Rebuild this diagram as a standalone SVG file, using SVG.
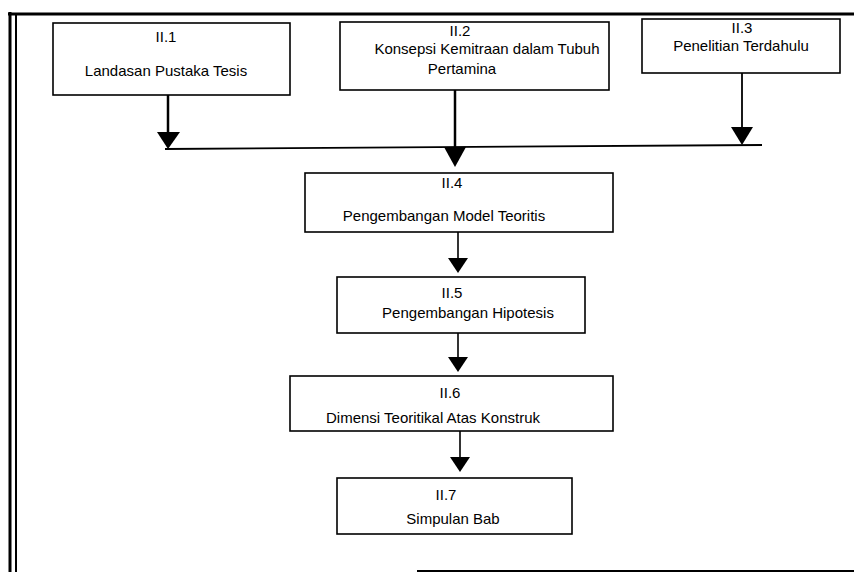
<svg xmlns="http://www.w3.org/2000/svg" width="854" height="572" viewBox="0 0 854 572">
  <style>
    .box { fill: #fff; stroke: #000; stroke-width: 1.6; }
    .lbl { font-family: "Liberation Sans", Arial, sans-serif; font-size: 15px; fill: #000; text-anchor: middle; }
    .wire { stroke: #000; fill: none; }
    .head { fill: #000; }
    .frame { stroke: #000; fill: none; }
  </style>
  <rect width="854" height="572" fill="#fff"/>

  <!-- page frame -->
  <g id="frame">
    <line class="frame" x1="8" y1="14" x2="854" y2="14" stroke-width="3"/>
    <line class="frame" x1="10" y1="12" x2="10" y2="572" stroke-width="3"/>
    <line class="frame" x1="16" y1="14" x2="16" y2="572" stroke-width="2"/>
    <line class="frame" x1="417" y1="571" x2="854" y2="571" stroke-width="2"/>
  </g>

  <!-- connectors -->
  <g id="connectors">
    <line class="wire" x1="168" y1="95" x2="168" y2="134" stroke-width="2.5"/>
    <polygon class="head" points="157,132 180,132 168,149"/>
    <line class="wire" x1="455" y1="90" x2="455" y2="149" stroke-width="2.5"/>
    <polygon class="head" points="444,147 466,147 455,167"/>
    <line class="wire" x1="742" y1="73" x2="742" y2="129" stroke-width="1.8"/>
    <polygon class="head" points="731,127 753,127 742,145"/>
    <line class="wire" x1="165" y1="149" x2="762" y2="145" stroke-width="1.8"/>
    <line class="wire" x1="458" y1="232" x2="458" y2="260" stroke-width="1.6"/>
    <polygon class="head" points="448,258 468,258 458,273"/>
    <line class="wire" x1="458" y1="333" x2="458" y2="359" stroke-width="1.6"/>
    <polygon class="head" points="448,357 468,357 458,372"/>
    <line class="wire" x1="460" y1="431" x2="460" y2="459" stroke-width="1.6"/>
    <polygon class="head" points="450,457 470,457 460,472"/>
  </g>

  <g id="n1">
    <rect class="box" x="53" y="23" width="237" height="72"/>
    <text class="lbl" x="166" y="42">II.1</text>
    <text class="lbl" x="166" y="76">Landasan Pustaka Tesis</text>
  </g>
  <g id="n2">
    <rect class="box" x="340" y="22" width="269" height="68"/>
    <text class="lbl" x="460" y="36">II.2</text>
    <text class="lbl" x="487" y="54">Konsepsi Kemitraan dalam Tubuh</text>
    <text class="lbl" x="462" y="74">Pertamina</text>
  </g>
  <g id="n3">
    <rect class="box" x="642" y="19" width="198" height="54"/>
    <text class="lbl" x="742" y="33">II.3</text>
    <text class="lbl" x="741" y="51">Penelitian Terdahulu</text>
  </g>
  <g id="n4">
    <rect class="box" x="305" y="173" width="308" height="59"/>
    <text class="lbl" x="452" y="188">II.4</text>
    <text class="lbl" x="444" y="221">Pengembangan Model Teoritis</text>
  </g>
  <g id="n5">
    <rect class="box" x="337" y="277" width="248" height="56"/>
    <text class="lbl" x="452" y="298">II.5</text>
    <text class="lbl" x="468" y="318">Pengembangan Hipotesis</text>
  </g>
  <g id="n6">
    <rect class="box" x="290" y="376" width="323" height="55"/>
    <text class="lbl" x="450" y="398">II.6</text>
    <text class="lbl" x="433" y="423">Dimensi Teoritikal Atas Konstruk</text>
  </g>
  <g id="n7">
    <rect class="box" x="337" y="478" width="235" height="56"/>
    <text class="lbl" x="446" y="500">II.7</text>
    <text class="lbl" x="453" y="524">Simpulan Bab</text>
  </g>
</svg>
